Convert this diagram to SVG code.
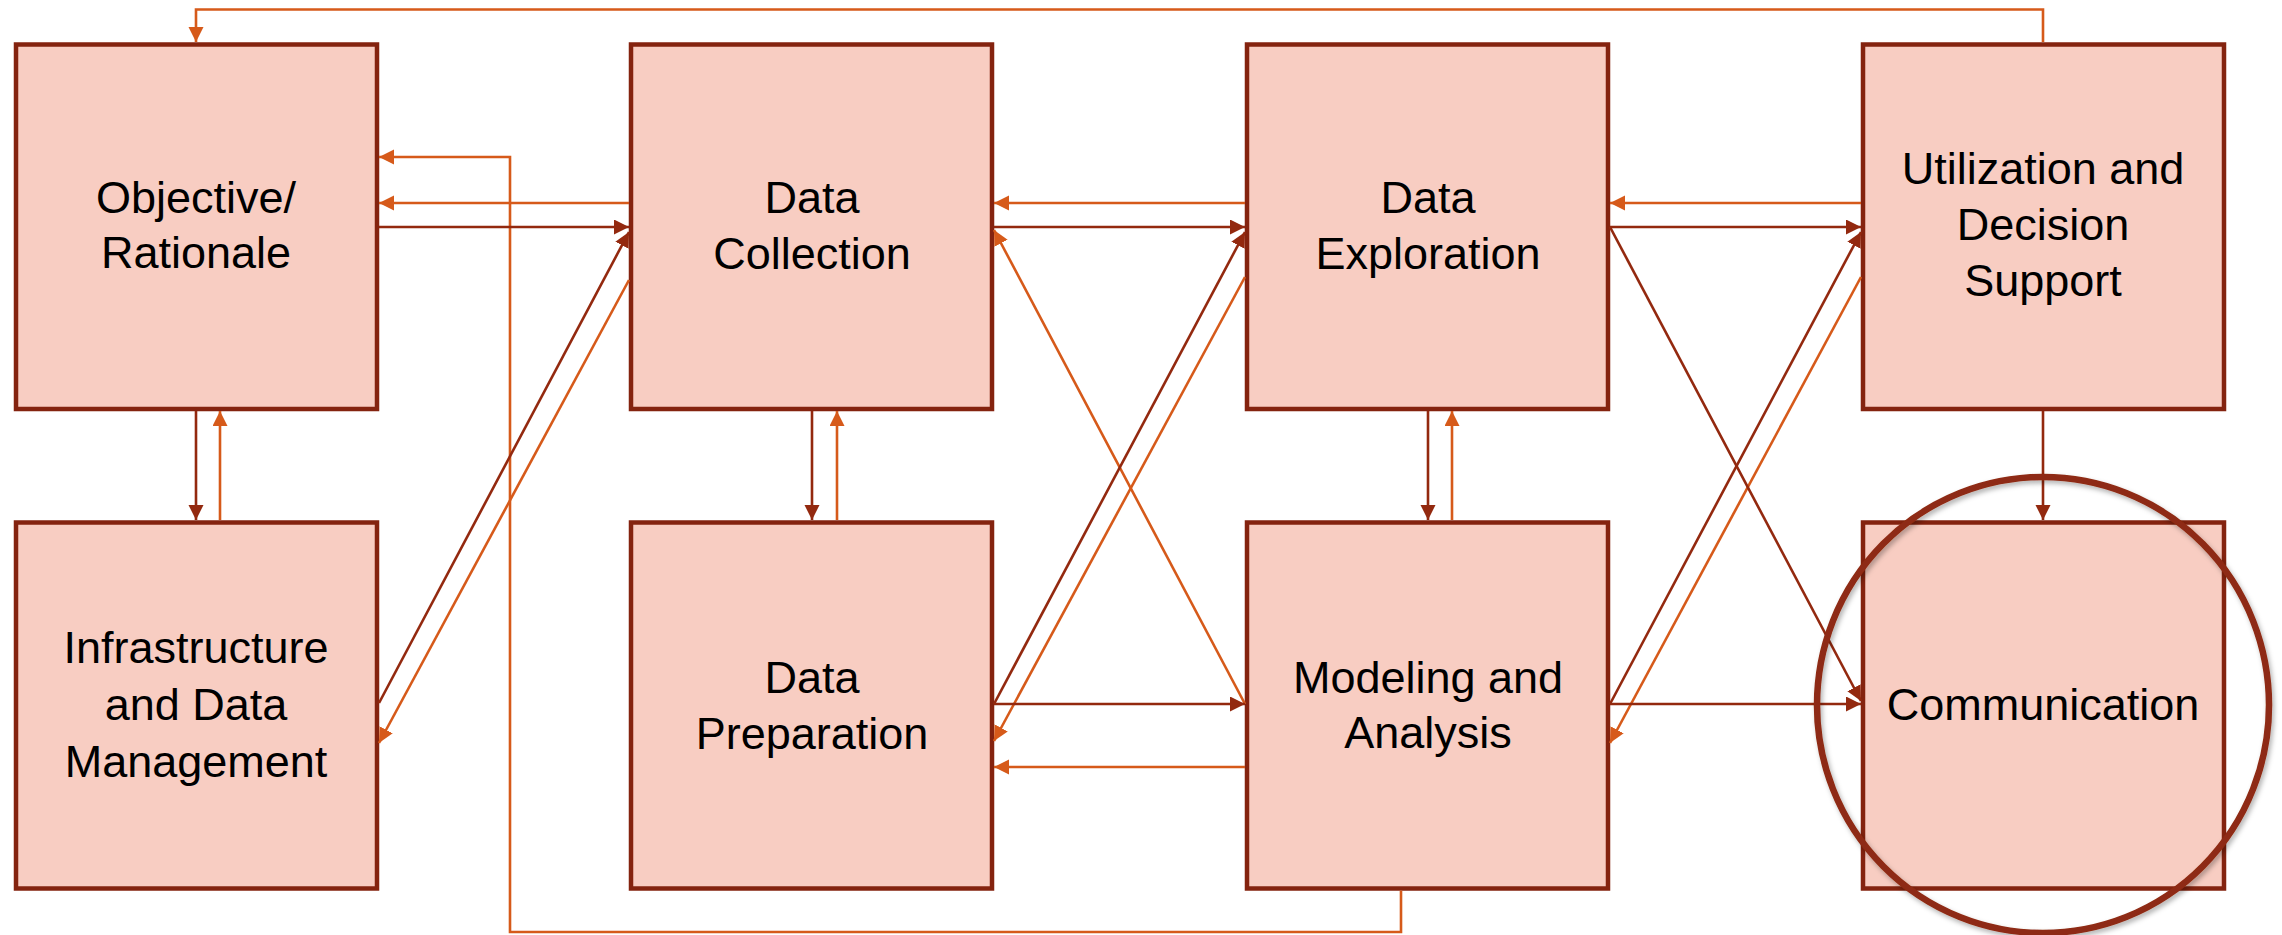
<svg xmlns="http://www.w3.org/2000/svg" width="2282" height="935" viewBox="0 0 2282 935">
<style>
.box{fill:#F8CDC2;stroke:#84230F;stroke-width:4.5}
.lbl{font-family:"Liberation Sans",Arial,sans-serif;font-size:45px;fill:#000;text-anchor:middle}
.o{fill:none;stroke:#D65A1A;stroke-width:2.6;marker-end:url(#ao)}
.d{fill:none;stroke:#93290F;stroke-width:2.6;marker-end:url(#ad)}
</style>
<defs>
<marker id="ao" markerUnits="userSpaceOnUse" markerWidth="16" markerHeight="16" refX="15" refY="7.5" orient="auto"><path d="M0,0 L15,7.5 L0,15 z" fill="#D65A1A"/></marker>
<marker id="ad" markerUnits="userSpaceOnUse" markerWidth="16" markerHeight="16" refX="15" refY="7.5" orient="auto"><path d="M0,0 L15,7.5 L0,15 z" fill="#93290F"/></marker>
<filter id="sh" x="-10%" y="-10%" width="120%" height="120%"><feDropShadow dx="2" dy="3" stdDeviation="2.5" flood-color="#000" flood-opacity="0.3"/></filter>
</defs>
<rect width="2282" height="935" fill="#fff"/>
<g id="objective"><rect class="box" x="16" y="44.5" width="361" height="364.5"/><text class="lbl" x="196" y="213">Objective/</text><text class="lbl" x="196" y="268">Rationale</text></g>
<g id="infrastructure"><rect class="box" x="16" y="522.5" width="361" height="366"/><text class="lbl" x="196" y="663">Infrastructure</text><text class="lbl" x="196" y="720">and Data</text><text class="lbl" x="196" y="777">Management</text></g>
<g id="data-collection"><rect class="box" x="631" y="44.5" width="361" height="364.5"/><text class="lbl" x="812" y="213">Data</text><text class="lbl" x="812" y="269">Collection</text></g>
<g id="data-preparation"><rect class="box" x="631" y="522.5" width="361" height="366"/><text class="lbl" x="812" y="693">Data</text><text class="lbl" x="812" y="749">Preparation</text></g>
<g id="data-exploration"><rect class="box" x="1247" y="44.5" width="361" height="364.5"/><text class="lbl" x="1428" y="213">Data</text><text class="lbl" x="1428" y="269">Exploration</text></g>
<g id="modeling-analysis"><rect class="box" x="1247" y="522.5" width="361" height="366"/><text class="lbl" x="1428" y="693">Modeling and</text><text class="lbl" x="1428" y="748">Analysis</text></g>
<g id="utilization"><rect class="box" x="1863" y="44.5" width="361" height="364.5"/><text class="lbl" x="2043" y="184">Utilization and</text><text class="lbl" x="2043" y="240">Decision</text><text class="lbl" x="2043" y="296">Support</text></g>
<g id="communication"><rect class="box" x="1863" y="522.5" width="361" height="366"/><text class="lbl" x="2043" y="720">Communication</text></g>
<g id="connectors">
<path class="o" d="M2043,42 V9.5 H196 V42"/>
<path class="d" d="M196,411 V520"/>
<path class="o" d="M220,520 V411"/>
<path class="o" d="M1401,890.5 V932 H510 V157 H379"/>
<path class="o" d="M629,203 H379"/>
<path class="d" d="M379,227 H629"/>
<path class="d" d="M379,703 L629,232"/>
<path class="o" d="M629,280 L379,743"/>
<path class="d" d="M812,411 V520"/>
<path class="o" d="M837,520 V411"/>
<path class="o" d="M1245,203 H994"/>
<path class="d" d="M994,227 H1245"/>
<path class="o" d="M1245,704 L994,230"/>
<path class="d" d="M994,704 L1245,232"/>
<path class="o" d="M1245,277 L994,741"/>
<path class="d" d="M994,704 H1245"/>
<path class="o" d="M1245,767 H994"/>
<path class="d" d="M1428,411 V520"/>
<path class="o" d="M1452,520 V411"/>
<path class="o" d="M1861,203 H1610"/>
<path class="d" d="M1610,227 H1861"/>
<path class="d" d="M1610,704 L1861,232"/>
<path class="o" d="M1861,277 L1610,743"/>
<path class="d" d="M1610,227 L1861,701"/>
<path class="d" d="M1610,704 H1861"/>
<path class="d" d="M2043,411 V520"/>
</g>
<g id="highlight"><ellipse cx="2043" cy="705" rx="226" ry="228" fill="none" stroke="#8E2A12" stroke-width="6.5" filter="url(#sh)"/></g>
</svg>
